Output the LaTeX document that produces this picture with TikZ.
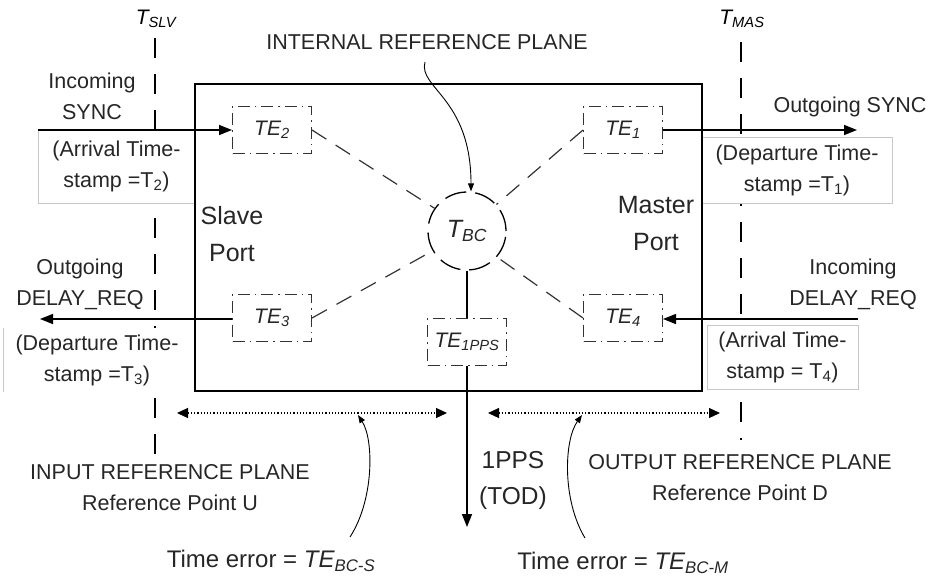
\documentclass[tikz,border=0pt]{standalone}
\usepackage{fontspec}
\setmainfont{Liberation Sans}
\usetikzlibrary{arrows.meta}
\begin{document}
\begin{tikzpicture}[x=1pt,y=-1pt,
  txt/.style={font=\fontsize{21.5}{31}\selectfont, align=center, inner sep=0pt, text=black!85},
  bigtxt/.style={font=\fontsize{25}{37}\selectfont, align=center, inner sep=0pt, text=black!85},
  errtxt/.style={font=\fontsize{24}{30}\selectfont, inner sep=0pt, text=black!85},
  tebox/.style={draw=black!80, line width=1pt, dash pattern=on 12pt off 5pt on 1.5pt off 5pt,
    minimum width=79pt, minimum height=47pt, inner sep=0pt, font=\fontsize{21}{25}\selectfont\itshape, text=black!85},
  graybox/.style={draw=black!22, fill=white, line width=0.8pt, inner sep=0pt, align=center,
    font=\fontsize{21.5}{31}\selectfont, text=black!85},
  arr/.style={line width=1.5pt, -{Triangle[length=13pt,width=10pt]}},
  refline/.style={line width=1.5pt, dash pattern=on 20pt off 16pt},
  conn/.style={line width=1.2pt, black!80, dash pattern=on 17pt off 11pt},
  dotarr/.style={line width=1.2pt, dotted, {Triangle[length=11pt,width=10pt]}-{Triangle[length=11pt,width=10pt]}},
  thinarr/.style={line width=0.9pt, -{Triangle[length=8pt,width=6pt]}}
]
\useasboundingbox (0,0) rectangle (928,581);

% reference planes
\node[font=\fontsize{21}{25}\selectfont\itshape, inner sep=0pt] (tslv) at (156,19) {T\textsubscript{SLV}};
\node[font=\fontsize{21}{25}\selectfont\itshape, inner sep=0pt] (tmas) at (742,19) {T\textsubscript{MAS}};
\coordinate (slvtop) at (155,38);
\coordinate (slvbot) at (155,460);
\coordinate (mastop) at (741,42);
\coordinate (masbot) at (741,440);
\draw[refline] (slvtop) -- (slvbot);
\draw[refline] (mastop) -- (masbot);

% gray label boxes (white filled, hiding the reference lines)
\node[graybox, minimum width=157pt, minimum height=73pt] (arr2) at (116.5,166.5) {(Arrival Time-\\stamp =T\textsubscript{2})};
\node[graybox, minimum width=190pt, minimum height=66pt] (dep1) at (797,170) {(Departure Time-\\stamp =T\textsubscript{1})};
\node[graybox, minimum width=151pt, minimum height=64pt] (arr4) at (782.5,357) {(Arrival Time-\\stamp = T\textsubscript{4})};
\node[graybox, draw=none, minimum width=186pt, minimum height=64pt] (dep3) at (97,360) {(Departure Time-\\stamp =T\textsubscript{3})};
\draw[black!22, line width=0.8pt] (dep3.north west) -- (dep3.south west);

% main box
\node[draw, line width=1.3pt, minimum width=507pt, minimum height=307pt, inner sep=0pt] (bc) at (448.5,237.5) {};

% TE boxes
\node[tebox] (te2) at (272,130) {TE\textsubscript{2}};
\node[tebox] (te1) at (623,130) {TE\textsubscript{1}};
\node[tebox] (te3) at (272,318) {TE\textsubscript{3}};
\node[tebox] (te4) at (623,318) {TE\textsubscript{4}};
\node[tebox] (te1pps) at (467,342) {TE\textsubscript{1PPS}};

% T_BC
\node[circle, draw, line width=1.3pt, dash pattern=on 22pt off 9pt, minimum size=78pt, inner sep=0pt,
  font=\fontsize{25}{28}\selectfont\itshape, text=black!85] (tbc) at (467,231) {T\textsubscript{BC}};

\draw[conn] (te2.east) -- (tbc.145);
\draw[conn] (te1.west) -- (tbc.42);
\draw[conn] (te3.east) -- (tbc.210);
\draw[conn] (te4.west) -- (tbc.-41);
\draw[line width=1.1pt] (tbc.south) -- (te1pps.north);

% message arrows
\coordinate (syncin) at (38,130);
\coordinate (syncout) at (857,130);
\coordinate (dreqout) at (40,319);
\coordinate (dreqin) at (858,319);
\draw[arr] (syncin) -- (te2.west);
\draw[arr] (te1.east) -- (syncout);
\draw[arr] (te3.west |- dreqout) -- (dreqout);
\draw[arr] (dreqin) -- (te4.east |- dreqin);

% 1PPS output
\coordinate (ppsend) at (467,527);
\draw[arr] (te1pps.south) -- (ppsend);
\node[txt, font=\fontsize{24.5}{36}\selectfont] (pps) at (513,480) {1PPS\\(TOD)};

% labels
\node[txt] (insync) at (92,96) {Incoming\\SYNC};
\node[txt] (outsync) at (850,107) {Outgoing SYNC};
\node[txt] (outdreq) at (80,284) {Outgoing\\DELAY\_REQ};
\node[txt] (indreq) at (853,284) {Incoming\\DELAY\_REQ};
\node[bigtxt] (slave) at (232,234) {Slave\\Port};
\node[bigtxt] (master) at (656,224) {Master\\Port};
\node[txt] (intref) at (427,42) {INTERNAL REFERENCE PLANE};
\node[txt] (inref) at (170,488) {INPUT REFERENCE PLANE\\Reference Point U};
\node[txt] (outref) at (740,478) {OUTPUT REFERENCE PLANE\\Reference Point D};
\node[errtxt] (errs) at (271,561) {Time error = \textit{TE\textsubscript{BC-S}}};
\node[errtxt] (errm) at (623,563) {Time error = \textit{TE\textsubscript{BC-M}}};

% internal reference plane pointer
\coordinate (intstart) at (425,62);
\draw[thinarr] (intstart) .. controls (418,88) and (471,98) .. (tbc.north -| 471,0);

% time error spans
\coordinate (ls) at (177,413);
\coordinate (le) at (447,413);
\coordinate (rs) at (488,413);
\coordinate (re) at (720,413);
\draw[dotarr] (ls) -- (le);
\draw[dotarr] (rs) -- (re);
\coordinate (lp) at (358,415);
\coordinate (rp) at (582,415);
\draw[thinarr] (350,537) .. controls (374,500) and (374,440) .. (lp);
\draw[thinarr] (585,538) .. controls (562,500) and (564,440) .. (rp);
\end{tikzpicture}
\end{document}
